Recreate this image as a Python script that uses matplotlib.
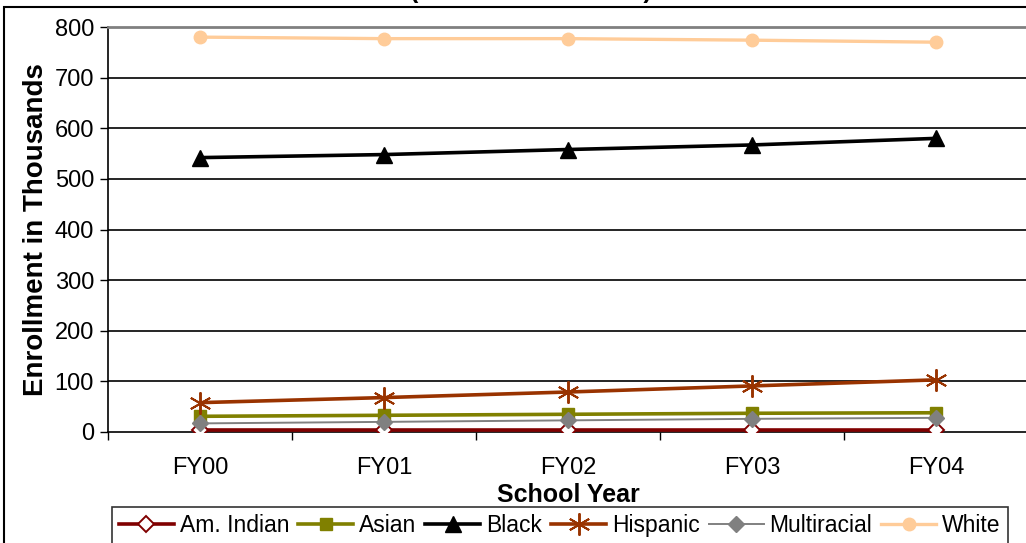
import matplotlib.pyplot as plt
from matplotlib.patches import Rectangle

# school years and enrollment (thousands)
years = ['FY00', 'FY01', 'FY02', 'FY03', 'FY04']
am_indian = [3, 3, 3, 3, 3]
asian = [31, 33, 35, 37, 38]
black = [542, 548, 558, 567, 580]
hispanic = [58, 68, 79, 91, 103]
multiracial = [17, 20, 23, 26, 28]
white = [780, 777, 777, 774, 770]
y_ticks = [0, 100, 200, 300, 400, 500, 600, 700, 800]

plt.rcParams['font.family'] = ['Liberation Sans', 'DejaVu Sans']

fig = plt.figure(figsize=(10.26, 5.43), dpi=100)
ax = fig.add_axes([108 / 1026, 1 - 432 / 543, 920 / 1026, 405 / 543])

x = list(range(len(years)))
ax.plot(x, am_indian, color='#800000', lw=2.6, marker='D', ms=8,
        mfc='white', mec='#800000', mew=1.4, label='Am. Indian', zorder=3)
ax.plot(x, asian, color='#808000', lw=2.6, marker='s', ms=9,
        mfc='#808000', mec='#808000', label='Asian', zorder=3)
ax.plot(x, black, color='black', lw=2.6, marker='^', ms=11,
        label='Black', zorder=3)
ax.plot(x, hispanic, color='#993300', lw=2.6, marker=(6, 2, 0), ms=16,
        mew=1.4, mec='#993300', label='Hispanic', zorder=3)
ax.plot(x, multiracial, color='#808080', lw=1.4, marker='D', ms=8,
        mfc='#808080', mec='#808080', label='Multiracial', zorder=3)
ax.plot(x, white, color='#FFCC99', lw=2.4, marker='o', ms=9,
        label='White', zorder=3)

ax.set_xlim(-0.5, len(years) - 0.5)
ax.set_ylim(0, 800)
ax.set_yticks(y_ticks)
ax.set_xticks(x)
ax.set_xticklabels(years)
ax.set_xticks([i - 0.5 for i in range(len(years) + 1)], minor=True)
ax.tick_params(axis='x', which='major', length=0, labelsize=17, pad=18)
ax.tick_params(axis='x', which='minor', length=6, width=1, direction='out')
ax.tick_params(axis='y', length=6, width=1, labelsize=17, pad=4)

for v in y_ticks[1:-1]:
    ax.axhline(v, color='black', lw=1.2, zorder=1)
ax.spines['top'].set_color('#808080')
ax.spines['top'].set_linewidth(2)
ax.spines['right'].set_visible(False)
ax.spines['left'].set_linewidth(1.2)
ax.spines['bottom'].set_linewidth(1.2)

ax.set_ylabel('Enrollment in Thousands', fontsize=20, fontweight='bold',
              labelpad=4)
ax.set_xlabel('School Year', fontsize=18, fontweight='bold', labelpad=3)

fig.text(0.517, 1 - 3 / 543, '(Source: DOE PTEF)', ha='center', va='bottom',
         fontsize=18, fontweight='bold')

# outer chart border
fig.patches.append(Rectangle((4 / 1026, -0.1), 1.2, 1 - 7 / 543 + 0.1,
                             transform=fig.transFigure, fill=False,
                             edgecolor='black', lw=1.5))

leg = fig.legend(loc='upper left', bbox_to_anchor=(112 / 1026, 1 - 507 / 543),
                 ncol=6, fontsize=16.5, frameon=True, fancybox=False,
                 handlelength=2.4, handletextpad=0.25, columnspacing=0.4,
                 borderpad=0.3, borderaxespad=0)
leg.get_frame().set_edgecolor('black')
leg.get_frame().set_linewidth(1.2)

fig.savefig('out.png', dpi=100)
